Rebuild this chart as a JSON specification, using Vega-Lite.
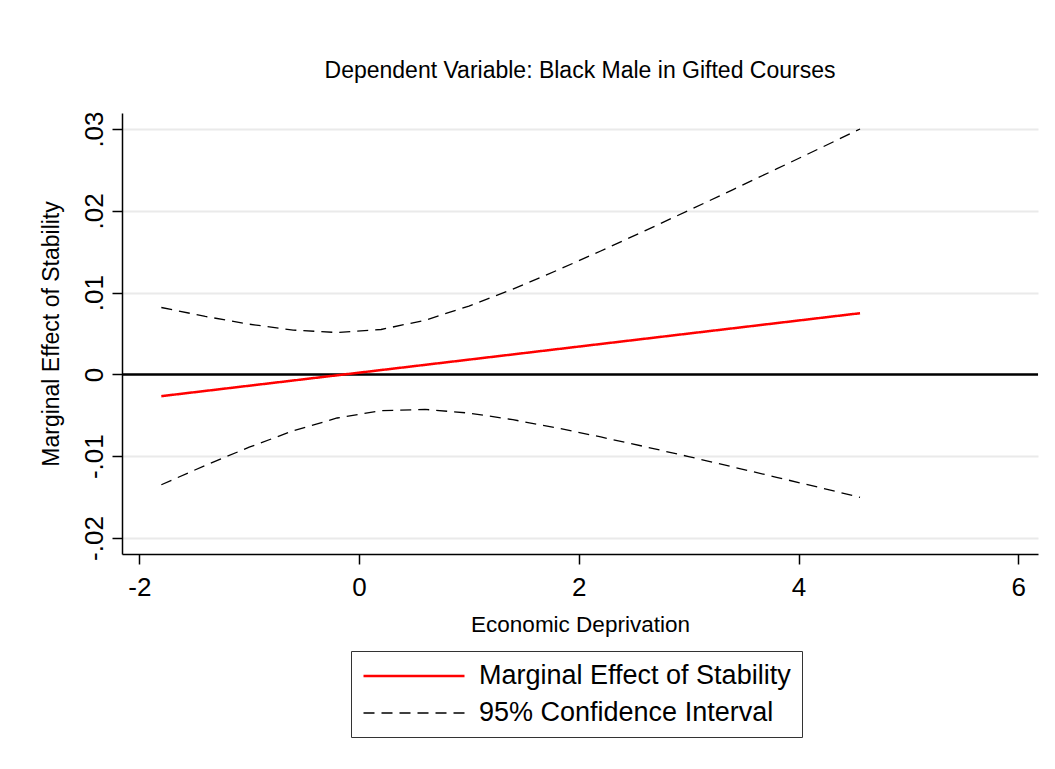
{
  "$schema": "https://vega.github.io/schema/vega-lite/v6.json",
  "width": 916,
  "height": 441,
  "autosize": {"type": "none"},
  "padding": {"left": 122, "top": 113, "right": 17, "bottom": 215},
  "background": "white",
  "title": {
    "text": "Dependent Variable: Black Male in Gifted Courses",
    "fontSize": 23,
    "fontWeight": "normal",
    "font": "Liberation Sans",
    "color": "#000000",
    "anchor": "middle",
    "frame": "group",
    "baseline": "alphabetic",
    "offset": 10
  },
  "config": {
    "view": {"stroke": null},
    "font": "Liberation Sans",
    "axis": {
      "domainColor": "#000000",
      "domainWidth": 1.5,
      "tickColor": "#000000",
      "tickWidth": 1.5,
      "tickSize": 10,
      "labelColor": "#000000",
      "titleColor": "#000000",
      "labelFont": "Liberation Sans",
      "titleFont": "Liberation Sans",
      "labelFontSize": 26,
      "titleFontSize": 22.5,
      "titleFontWeight": "normal",
      "labelFlush": false,
      "labelOverlap": false
    },
    "legend": {
      "labelFont": "Liberation Sans",
      "orient": "none",
      "legendX": 229,
      "legendY": 538,
      "direction": "vertical",
      "strokeColor": "#333333",
      "padding": 11,
      "symbolType": "M-1,0H7.08",
      "symbolSize": 625,
      "rowPadding": 9.5,
      "labelFontSize": 27,
      "labelColor": "#000000",
      "labelOffset": 89,
      "labelLimit": 500
    }
  },
  "datasets": {
    "curves": [
      {"x": -1.8, "y": -0.00266, "series": "Marginal Effect of Stability", "bound": "me"},
      {"x": 0.0, "y": 0.00021, "series": "Marginal Effect of Stability", "bound": "me"},
      {"x": 2.0, "y": 0.0034, "series": "Marginal Effect of Stability", "bound": "me"},
      {"x": 4.56, "y": 0.00748, "series": "Marginal Effect of Stability", "bound": "me"},
      {"x": -1.8, "y": 0.00818, "series": "95% Confidence Interval", "bound": "upper"},
      {"x": -1.4, "y": 0.00709, "series": "95% Confidence Interval", "bound": "upper"},
      {"x": -1.0, "y": 0.00614, "series": "95% Confidence Interval", "bound": "upper"},
      {"x": -0.6, "y": 0.00542, "series": "95% Confidence Interval", "bound": "upper"},
      {"x": -0.2, "y": 0.00512, "series": "95% Confidence Interval", "bound": "upper"},
      {"x": 0.2, "y": 0.00549, "series": "95% Confidence Interval", "bound": "upper"},
      {"x": 0.6, "y": 0.00662, "series": "95% Confidence Interval", "bound": "upper"},
      {"x": 1.0, "y": 0.00835, "series": "95% Confidence Interval", "bound": "upper"},
      {"x": 1.4, "y": 0.01043, "series": "95% Confidence Interval", "bound": "upper"},
      {"x": 1.8, "y": 0.01271, "series": "95% Confidence Interval", "bound": "upper"},
      {"x": 2.2, "y": 0.01509, "series": "95% Confidence Interval", "bound": "upper"},
      {"x": 2.6, "y": 0.01755, "series": "95% Confidence Interval", "bound": "upper"},
      {"x": 3.0, "y": 0.02005, "series": "95% Confidence Interval", "bound": "upper"},
      {"x": 3.4, "y": 0.02257, "series": "95% Confidence Interval", "bound": "upper"},
      {"x": 3.8, "y": 0.02512, "series": "95% Confidence Interval", "bound": "upper"},
      {"x": 4.2, "y": 0.02768, "series": "95% Confidence Interval", "bound": "upper"},
      {"x": 4.56, "y": 0.03, "series": "95% Confidence Interval", "bound": "upper"},
      {"x": -1.8, "y": -0.01349, "series": "95% Confidence Interval", "bound": "lower"},
      {"x": -1.4, "y": -0.01113, "series": "95% Confidence Interval", "bound": "lower"},
      {"x": -1.0, "y": -0.0089, "series": "95% Confidence Interval", "bound": "lower"},
      {"x": -0.6, "y": -0.0069, "series": "95% Confidence Interval", "bound": "lower"},
      {"x": -0.2, "y": -0.00533, "series": "95% Confidence Interval", "bound": "lower"},
      {"x": 0.2, "y": -0.00443, "series": "95% Confidence Interval", "bound": "lower"},
      {"x": 0.6, "y": -0.00428, "series": "95% Confidence Interval", "bound": "lower"},
      {"x": 1.0, "y": -0.00473, "series": "95% Confidence Interval", "bound": "lower"},
      {"x": 1.4, "y": -0.00554, "series": "95% Confidence Interval", "bound": "lower"},
      {"x": 1.8, "y": -0.00654, "series": "95% Confidence Interval", "bound": "lower"},
      {"x": 2.2, "y": -0.00765, "series": "95% Confidence Interval", "bound": "lower"},
      {"x": 2.6, "y": -0.00883, "series": "95% Confidence Interval", "bound": "lower"},
      {"x": 3.0, "y": -0.01005, "series": "95% Confidence Interval", "bound": "lower"},
      {"x": 3.4, "y": -0.01131, "series": "95% Confidence Interval", "bound": "lower"},
      {"x": 3.8, "y": -0.01258, "series": "95% Confidence Interval", "bound": "lower"},
      {"x": 4.2, "y": -0.01386, "series": "95% Confidence Interval", "bound": "lower"},
      {"x": 4.56, "y": -0.01503, "series": "95% Confidence Interval", "bound": "lower"}
    ],
    "zero": [{"y": 0}]
  },
  "layer": [
    {
      "data": {"name": "zero"},
      "mark": {"type": "rule", "color": "#000000", "strokeWidth": 2.5},
      "encoding": {
        "y": {
          "field": "y",
          "type": "quantitative",
          "scale": {"domain": [-0.02196, 0.03196], "nice": false, "zero": false},
          "axis": {
            "values": [-0.02, -0.01, 0, 0.01, 0.02, 0.03],
            "labelExpr": "datum.value == 0 ? '0' : replace(replace(format(datum.value, '.2f'), '0.', '.'), '\u2212', '-')",
            "labelAngle": 270,
            "labelAlign": "center",
            "labelBaseline": "alphabetic",
            "labelPadding": 10,
            "grid": true,
            "gridColor": "#eaeaea",
            "gridWidth": 2,
            "title": "Marginal Effect of Stability",
            "titleFontSize": 23,
            "titleAngle": 270,
            "titleAlign": "center",
            "titleBaseline": "alphabetic",
            "titleX": -63.5,
            "titleY": 220.5
          }
        }
      }
    },
    {
      "data": {"name": "curves"},
      "mark": {"type": "line", "strokeCap": "butt"},
      "encoding": {
        "x": {
          "field": "x",
          "type": "quantitative",
          "scale": {"domain": [-2.158, 6.18], "nice": false, "zero": false},
          "axis": {
            "values": [-2, 0, 2, 4, 6],
            "labelExpr": "replace(datum.label, '\u2212', '-')",
            "grid": false,
            "labelBaseline": "alphabetic",
            "labelPadding": 31,
            "title": "Economic Deprivation",
            "titleBaseline": "alphabetic",
            "titleY": 77
          }
        },
        "y": {"field": "y", "type": "quantitative"},
        "detail": {"field": "bound", "type": "nominal"},
        "color": {
          "field": "series",
          "type": "nominal",
          "scale": {
            "domain": ["Marginal Effect of Stability", "95% Confidence Interval"],
            "range": ["#ff0000", "#000000"]
          },
          "legend": {"title": null}
        },
        "strokeDash": {
          "field": "series",
          "type": "nominal",
          "scale": {
            "domain": ["Marginal Effect of Stability", "95% Confidence Interval"],
            "range": [[1, 0], [11, 7]]
          },
          "legend": {"title": null}
        },
        "strokeWidth": {
          "field": "series",
          "type": "nominal",
          "scale": {
            "domain": ["Marginal Effect of Stability", "95% Confidence Interval"],
            "range": [2.5, 1.3]
          },
          "legend": {"title": null}
        }
      }
    }
  ]
}
